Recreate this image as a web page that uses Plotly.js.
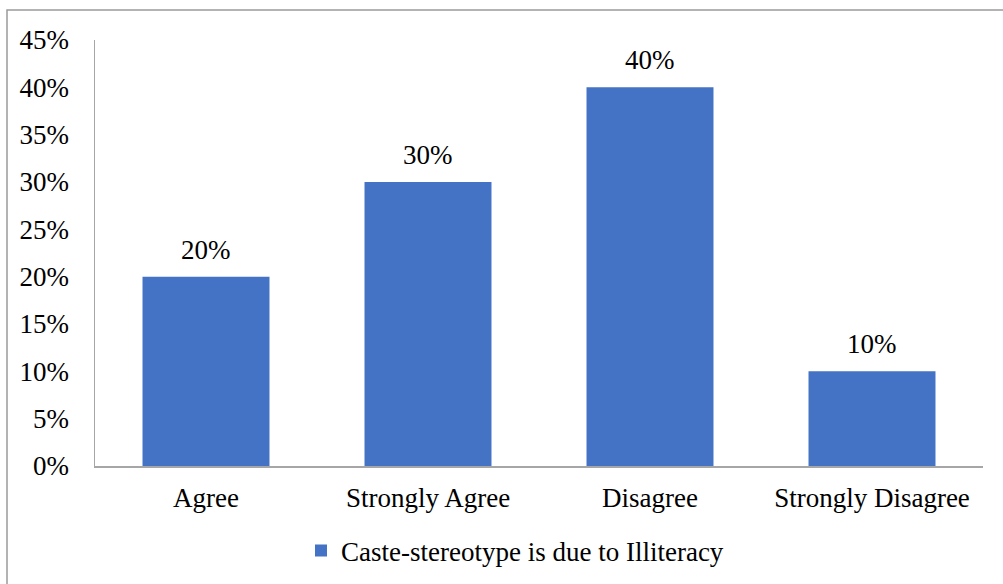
<!DOCTYPE html>
<html>
<head>
<meta charset="utf-8">
<script src="https://cdn.plot.ly/plotly-3.0.1.min.js"></script>
<style>
  html, body { margin: 0; padding: 0; background: #ffffff; }
  #chart { width: 1003px; height: 584px; }
</style>
</head>
<body>
<div id="chart"></div>
<script>
// Survey responses: share of respondents per answer
const categories = ["Agree", "Strongly Agree", "Disagree", "Strongly Disagree"];
const shares = [0.20, 0.30, 0.40, 0.10];
const seriesName = "Caste-stereotype is due to Illiteracy";
const tickValues = [0, 0.05, 0.10, 0.15, 0.20, 0.25, 0.30, 0.35, 0.40, 0.45];
const tickLabels = ["0%", "5%", "10%", "15%", "20%", "25%", "30%", "35%", "40%", "45%"];

const serif = "Liberation Serif, Times New Roman, serif";
const fs = 27;

const trace = {
  type: "bar",
  x: categories,
  y: shares,
  name: seriesName,
  marker: { color: "#4472C4" },
  hoverinfo: "skip"
};

// value labels placed just above each bar
const valueLabels = categories.map((c, i) => ({
  x: c,
  y: shares[i],
  xref: "x",
  yref: "y",
  text: Math.round(shares[i] * 100) + "%",
  showarrow: false,
  yanchor: "bottom",
  yshift: 10,
  font: { family: serif, size: fs, color: "#000000" }
}));

const W = 1003, H = 584;
const m = { l: 95, r: 20, t: 40, b: 118 };
const pw = W - m.l - m.r, ph = H - m.t - m.b;

const layout = {
  width: W,
  height: H,
  margin: m,
  paper_bgcolor: "#ffffff",
  plot_bgcolor: "#ffffff",
  font: { family: serif, size: fs, color: "#000000" },
  bargap: 0.428,
  showlegend: true,
  legend: {
    orientation: "h",
    xref: "container",
    yref: "container",
    x: 515 / W,
    xanchor: "center",
    y: 1 - 551 / H,
    yanchor: "middle",
    font: { family: serif, size: fs, color: "#000000" },
    itemclick: false
  },
  xaxis: {
    showgrid: false,
    zeroline: false,
    showline: true,
    linecolor: "#a6a6a6",
    linewidth: 1.5,
    ticks: "",
    ticklabelstandoff: 7,
    tickfont: { family: serif, size: fs, color: "#000000" },
    automargin: false,
    fixedrange: true
  },
  yaxis: {
    range: [0, 0.45],
    tickvals: tickValues,
    ticktext: tickLabels,
    showgrid: false,
    zeroline: false,
    showline: true,
    linecolor: "#a6a6a6",
    linewidth: 1.5,
    ticks: "",
    ticklabelstandoff: 19,
    tickfont: { family: serif, size: fs, color: "#000000" },
    automargin: false,
    fixedrange: true
  },
  annotations: valueLabels,
  shapes: [{
    type: "rect",
    xref: "paper", yref: "paper",
    x0: (7 - m.l) / pw,
    x1: (W + 20 - m.l) / pw,
    y0: -(H + 20 - m.t - ph) / ph,
    y1: (m.t + ph - 10) / ph,
    line: { color: "#9a9a9a", width: 1.5 },
    fillcolor: "rgba(0,0,0,0)",
    layer: "below"
  }]
};

Plotly.newPlot("chart", [trace], layout, { displayModeBar: false, staticPlot: true });
</script>
</body>
</html>
